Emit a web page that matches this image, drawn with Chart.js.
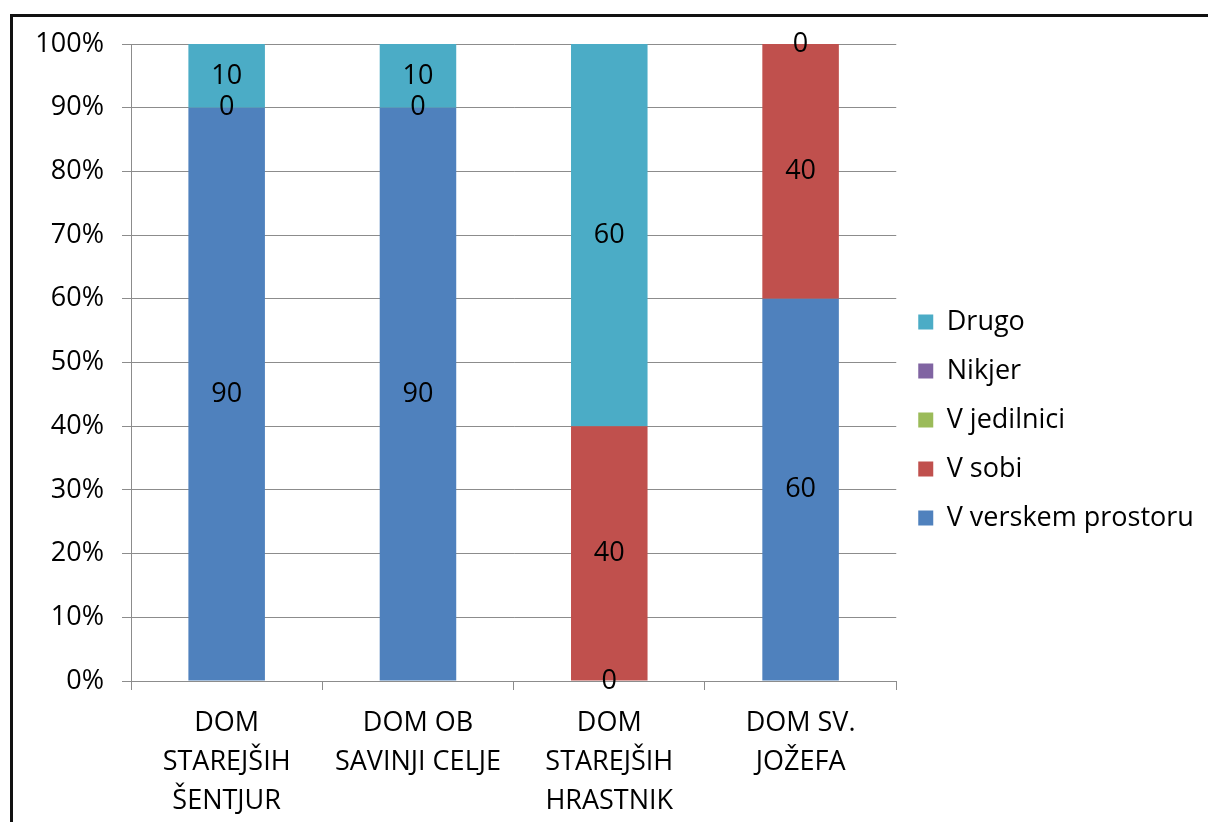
<!DOCTYPE html>
<html>
<head>
<meta charset="utf-8">
<script src="https://cdn.jsdelivr.net/npm/chart.js@4.4.0/dist/chart.umd.min.js"></script>
<style>
  html, body { margin: 0; padding: 0; background: #fff; overflow: hidden; }
  #frame { position: absolute; left: 10px; top: 14px; width: 1300px; height: 900px; border: 3px solid #111; box-sizing: border-box; }
  #wrap { position: absolute; left: 0; top: 0; width: 1208px; height: 822px; }
</style>
</head>
<body>
<div id="frame"></div>
<div id="wrap"><canvas id="chart"></canvas></div>
<script>
const categories = [
  ['DOM', 'STAREJŠIH', 'ŠENTJUR'],
  ['DOM OB', 'SAVINJI CELJE'],
  ['DOM', 'STAREJŠIH', 'HRASTNIK'],
  ['DOM SV.', 'JOŽEFA']
];
const seriesNames = ['V verskem prostoru', 'V sobi', 'V jedilnici', 'Nikjer', 'Drugo'];
const vVerskem = [90, 90, 0, 60];
const vSobi = [0, 0, 40, 40];
const vJedilnici = [null, null, null, null];
const nikjer = [null, null, null, null];
const drugo = [10, 10, 60, 0];
const yTicks = [0, 10, 20, 30, 40, 50, 60, 70, 80, 90, 100];

const colors = ['#4F81BD', '#C0504D', '#9BBB59', '#8064A2', '#4BACC6'];
const seriesData = [vVerskem, vSobi, vJedilnici, nikjer, drugo];
const FONT = "'Open Sans', sans-serif";
const gridColor = '#8c8c8c';

// draw the value of each segment in its middle
const valueLabels = {
  id: 'valueLabels',
  afterDatasetsDraw(chart) {
    const ctx = chart.ctx;
    ctx.save();
    ctx.font = '27px ' + FONT;
    ctx.fillStyle = '#000';
    ctx.textAlign = 'center';
    ctx.textBaseline = 'middle';
    chart.data.datasets.forEach((ds, i) => {
      const meta = chart.getDatasetMeta(i);
      meta.data.forEach((bar, j) => {
        const v = ds.data[j];
        if (v === null || v === undefined) return;
        ctx.fillText(String(v), bar.x, (bar.y + bar.base) / 2);
      });
    });
    ctx.restore();
  }
};

// nudge the legend up a bit
const legendShift = {
  id: 'legendShift',
  afterLayout(chart) {
    if (chart.legend) {
      chart.legend.top -= 13;
      chart.legend.bottom -= 13;
    }
  }
};

new Chart(document.getElementById('chart'), {
  type: 'bar',
  data: {
    labels: categories,
    datasets: seriesNames.map((name, i) => ({
      label: name,
      data: seriesData[i],
      backgroundColor: colors[i],
      borderWidth: 0,
      barPercentage: 0.4,
      categoryPercentage: 1.0
    }))
  },
  options: {
    responsive: true,
    maintainAspectRatio: false,
    animation: false,
    layout: { padding: { top: 44, right: 13, bottom: 0, left: 0 } },
    plugins: {
      tooltip: { enabled: false },
      legend: {
        position: 'right',
        reverse: true,
        labels: {
          font: { family: FONT, size: 27 },
          color: '#000',
          boxWidth: 15,
          boxHeight: 15,
          padding: 22
        }
      }
    },
    scales: {
      x: {
        stacked: true,
        grid: { offset: true, drawOnChartArea: false, color: gridColor, tickLength: 9 },
        border: { color: gridColor },
        ticks: {
          color: '#000',
          font: { family: FONT, size: 27, lineHeight: 1.44 },
          padding: 14,
          maxRotation: 0,
          autoSkip: false
        },
        afterFit(scale) { scale.height = 822 - 681; }
      },
      y: {
        stacked: true,
        min: 0,
        max: 100,
        grid: { color: gridColor, tickLength: 9 },
        border: { color: gridColor },
        afterBuildTicks(scale) { scale.ticks = yTicks.map(v => ({ value: v })); },
        ticks: {
          color: '#000',
          font: { family: FONT, size: 27 },
          padding: 18,
          callback: v => v + '%'
        },
        afterFit(scale) { scale.width = 131; }
      }
    }
  },
  plugins: [valueLabels, legendShift]
});
</script>
</body>
</html>
